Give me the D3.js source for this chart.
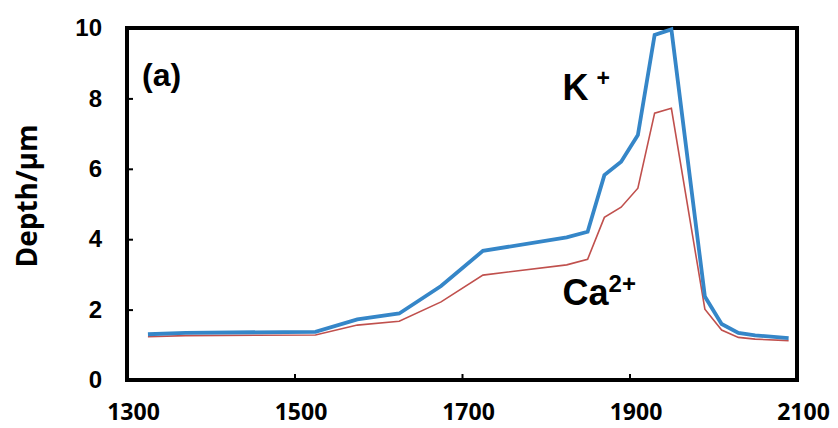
<!DOCTYPE html>
<html>
<head>
<meta charset="utf-8">
<script src="https://cdn.jsdelivr.net/npm/d3@7"></script>
<style>
  body { margin: 0; background: #fff; }
  svg { display: block; }
</style>
</head>
<body>
<div id="chart-area"></div>
<script>
// Data
let temps = [1325, 1370, 1525, 1575, 1625, 1675, 1725, 1825, 1850, 1870, 1890, 1910, 1930, 1950, 1990, 2010, 2030, 2050, 2090];
let kDepth = [1.30, 1.34, 1.37, 1.72, 1.89, 2.67, 3.67, 4.05, 4.21, 5.82, 6.20, 6.96, 9.80, 9.96, 2.37, 1.59, 1.34, 1.27, 1.19];
let caDepth = [1.23, 1.26, 1.28, 1.56, 1.67, 2.22, 2.98, 3.27, 3.43, 4.62, 4.91, 5.45, 7.58, 7.72, 2.01, 1.42, 1.21, 1.16, 1.12];
let xTicks = [1300, 1500, 1700, 1900, 2100];
let yTicks = [0, 2, 4, 6, 8, 10];

let svgWidth = 838;
let svgHeight = 428;
let margin = { left: 127, right: 41, top: 28, bottom: 48 };
let width = svgWidth - margin.left - margin.right;
let height = svgHeight - margin.top - margin.bottom;

let svg = d3.select('#chart-area')
    .append('svg')
        .attr('width', svgWidth)
        .attr('height', svgHeight);

let g = svg.append('g')
    .attr('transform', 'translate(' + margin.left + ',' + margin.top + ')');

// Scales
let x = d3.scaleLinear()
    .domain([1300, 2100])
    .range([0, width]);
let y = d3.scaleLinear()
    .domain([0, 10])
    .range([height, 0]);

// X Axis (ticks point inward)
let xAxisCall = d3.axisBottom(x)
    .tickValues(xTicks)
    .tickSizeInner(-6)
    .tickSizeOuter(0)
    .tickPadding(24)
    .tickFormat(d3.format('d'));
let xAxis = g.append('g')
    .attr('class', 'x axis')
    .attr('transform', 'translate(0,' + height + ')')
    .call(xAxisCall);
xAxis.select('.domain').remove();
xAxis.selectAll('line').attr('stroke', '#000').attr('stroke-width', 2);
xAxis.selectAll('text')
    .attr('font-family', '"Open Sans", sans-serif')
    .attr('font-weight', 'bold')
    .attr('font-size', '23px')
    .attr('fill', '#000')
    .attr('dx', 6);

// Y Axis
let yAxisCall = d3.axisLeft(y)
    .tickValues(yTicks)
    .tickSizeInner(-6)
    .tickSizeOuter(0)
    .tickPadding(25)
    .tickFormat(d3.format('d'));
let yAxis = g.append('g')
    .attr('class', 'y axis')
    .call(yAxisCall);
yAxis.select('.domain').remove();
yAxis.selectAll('line').attr('stroke', '#000').attr('stroke-width', 2);
yAxis.selectAll('text')
    .attr('font-family', '"Liberation Sans", Arial, sans-serif')
    .attr('font-weight', 'bold')
    .attr('font-size', '24px')
    .attr('fill', '#000');

// Frame
g.append('rect')
    .attr('x', 0)
    .attr('y', 0)
    .attr('width', width)
    .attr('height', height)
    .attr('fill', 'none')
    .attr('stroke', '#000')
    .attr('stroke-width', 4);

// Lines
let depthLine = d3.line()
    .x(function(d, i) { return x(temps[i]); })
    .y(function(d) { return y(d); });

g.append('path')
    .datum(caDepth)
    .attr('fill', 'none')
    .attr('stroke', '#c0504d')
    .attr('stroke-width', 1.6)
    .attr('d', depthLine);

g.append('path')
    .datum(kDepth)
    .attr('fill', 'none')
    .attr('stroke', '#3586c8')
    .attr('stroke-width', 3.8)
    .attr('d', depthLine);

// Labels
g.append('text')
    .attr('x', 15)
    .attr('y', 58)
    .attr('font-family', '"Liberation Sans", Arial, sans-serif')
    .attr('font-weight', 'bold')
    .attr('font-size', '32px')
    .text('(a)');

let kLabel = g.append('text')
    .attr('x', x(1820))
    .attr('y', 72)
    .attr('font-family', '"Liberation Sans", Arial, sans-serif')
    .attr('font-weight', 'bold')
    .attr('font-size', '36px');
kLabel.append('tspan').text('K');
kLabel.append('tspan')
    .attr('dx', 8)
    .attr('dy', -14)
    .attr('font-size', '23px')
    .text('+');

let caLabel = g.append('text')
    .attr('x', x(1820))
    .attr('y', 277)
    .attr('font-family', '"Liberation Sans", Arial, sans-serif')
    .attr('font-weight', 'bold')
    .attr('font-size', '36px');
caLabel.append('tspan').text('Ca');
caLabel.append('tspan')
    .attr('dy', -13)
    .attr('font-size', '24px')
    .text('2+');

// Y axis title
svg.append('text')
    .attr('transform', 'rotate(-90)')
    .attr('x', -196)
    .attr('y', 37)
    .attr('text-anchor', 'middle')
    .attr('font-family', '"Open Sans", sans-serif')
    .attr('font-weight', 'bold')
    .attr('font-size', '28px')
    .text('Depth/\u03bcm');
</script>
</body>
</html>
